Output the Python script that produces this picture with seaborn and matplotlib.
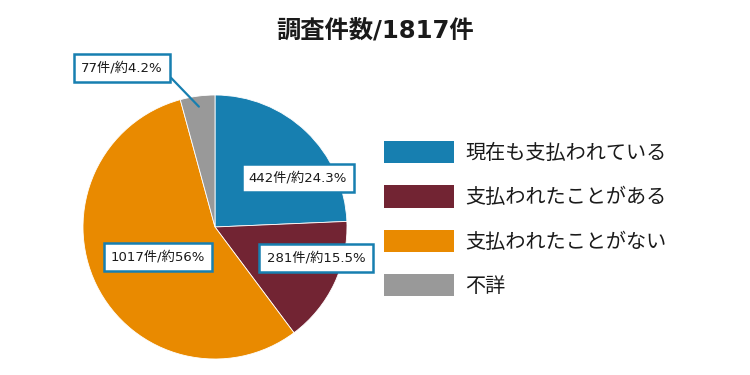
import numpy as np
import matplotlib
matplotlib.use('Agg')
import matplotlib.pyplot as plt
from matplotlib.patches import Patch
import seaborn as sns

sns.set_theme(style='white')
plt.rcParams['font.family'] = ['DejaVu Sans', 'Noto Sans CJK JP']

# data
categories = ['現在も支払われている', '支払われたことがある', '支払われたことがない', '不詳']
counts = [442, 281, 1017, 77]
pct_labels = ['24.3', '15.5', '56', '4.2']
total = 1817
colors = sns.color_palette(['#177fb0', '#722433', '#e98a00', '#999999'])

# pie geometry in pixels (fig 750x375)
W, H = 750, 375
cx, cy, r = 215, 148, 132

fig = plt.figure(figsize=(7.5, 3.75), dpi=100)
ax = fig.add_axes([(cx - r) / W, (cy - r) / H, 2 * r / W, 2 * r / H])
wedges, _ = ax.pie(counts, colors=colors, startangle=90, counterclock=False,
                   wedgeprops=dict(edgecolor='white', linewidth=0.6))
ax.set_xlim(-1, 1)
ax.set_ylim(-1, 1)
ax.set_aspect('equal')
ax.axis('off')

def to_data(px, py):
    # pixel from top-left -> data units of the pie
    return ((px - cx) / r, ((H - py) - cy) / r)

box = dict(boxstyle='square,pad=0.55', fc='white', ec='#177fb0', lw=1.8)
label_pos = [(298, 178), (316, 258), (158, 257), (122, 68)]
for i, (v, p) in enumerate(zip(counts, pct_labels)):
    txt = f'{v}件/約{p}%'
    tx, ty = to_data(*label_pos[i])
    if i == 3:
        ang = np.deg2rad((wedges[i].theta1 + wedges[i].theta2) / 2)
        xy = (0.92 * np.cos(ang), 0.92 * np.sin(ang))
        ax.annotate(txt, xy=xy, xytext=(tx, ty), ha='center', va='center',
                    fontsize=9.5, color='#1a1a1a', bbox=box, annotation_clip=False,
                    arrowprops=dict(arrowstyle='-', color='#177fb0', lw=1.6,
                                    relpos=(1.0, 0.4), shrinkA=0, shrinkB=0))
    else:
        ax.annotate(txt, xy=(tx, ty), ha='center', va='center', fontsize=9.5,
                    color='#1a1a1a', bbox=box, annotation_clip=False)

fig.text(0.5, 1 - 31 / H, f'調査件数/{total}件', ha='center', va='center',
         fontsize=17.5, fontweight='bold', color='#1a1a1a')

handles = [Patch(facecolor=c, edgecolor='none') for c in colors]
fig.legend(handles, categories, loc='upper left',
           bbox_to_anchor=(384 / W, 1 - 141 / H), frameon=False, fontsize=14.5,
           handlelength=3.5, handleheight=1.32, handletextpad=0.55,
           labelspacing=1.1, borderpad=0, borderaxespad=0, labelcolor='#1a1a1a')

fig.savefig('out.png', dpi=100)
